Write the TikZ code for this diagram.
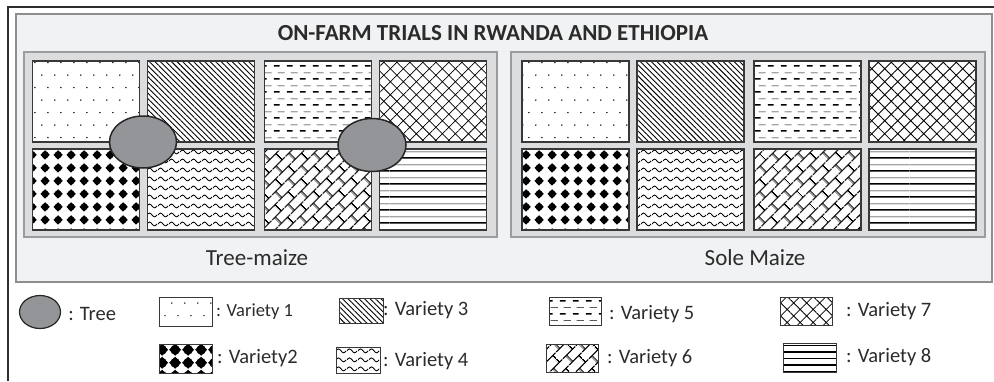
\documentclass[tikz,border=0pt]{standalone}
\usepackage{fontspec}
\setmainfont{Carlito}
\usetikzlibrary{positioning,patterns.meta,shapes.geometric}

\definecolor{framecol}{HTML}{2E2E2E}
\definecolor{boxfill}{HTML}{F1F2F3}
\definecolor{boxline}{HTML}{8E8E8E}
\definecolor{panelfill}{HTML}{DCDDDE}
\definecolor{panelline}{HTML}{9C9C9C}
\definecolor{plotline}{HTML}{383838}
\definecolor{treefill}{HTML}{939598}
\definecolor{treeline}{HTML}{262626}
\definecolor{inkcol}{HTML}{2B2B2B}

\tikzdeclarepattern{
  name=finedots, type=uncolored,
  bounding box={(0pt,0pt) and (13pt,25.4pt)},
  tile size={(13pt,25.4pt)},
  code={
    \tikzset{x=1pt,y=1pt}
    \fill (3,3) circle [radius=0.8];
    \fill (9.5,15.7) circle [radius=0.8];
  }
}
\tikzdeclarepattern{
  name=blackdots, type=uncolored,
  bounding box={(0pt,0pt) and (13pt,13pt)},
  tile size={(13pt,13pt)},
  code={
    \tikzset{x=1pt,y=1pt}
    \fill (6.5,6.5) circle [radius=3.8];
    \fill (6.5,1.5) -- (11.5,6.5) -- (6.5,11.5) -- (1.5,6.5) -- cycle;
  }
}
\tikzdeclarepattern{
  name=bigblackdots, type=uncolored,
  bounding box={(0pt,0pt) and (13pt,13pt)},
  tile size={(13pt,13pt)},
  code={
    \tikzset{x=1pt,y=1pt}
    \fill (6.5,6.5) circle [radius=5.1];
    \fill (6.5,0.2) -- (12.8,6.5) -- (6.5,12.8) -- (0.2,6.5) -- cycle;
  }
}
\tikzdeclarepattern{
  name=waves, type=uncolored,
  bounding box={(0pt,0pt) and (10.5pt,8.5pt)},
  tile size={(10.5pt,8.5pt)},
  code={
    \tikzset{x=1pt,y=1pt}
    \draw[line width=0.9pt] (0,4.25) sin (2.625,6.25) cos (5.25,4.25) sin (7.875,2.25) cos (10.5,4.25);
  }
}
\tikzdeclarepattern{
  name=dashrows, type=uncolored,
  bounding box={(0pt,0pt) and (13pt,13pt)},
  tile size={(13pt,13pt)},
  code={
    \tikzset{x=1pt,y=1pt}
    \draw[line width=1.7pt] (1,3.25) -- (7,3.25);
    \draw[line width=0.55pt] (5,9.75) -- (12.5,9.75);
  }
}
\tikzdeclarepattern{
  name=tworules, type=uncolored,
  bounding box={(0pt,0pt) and (130pt,13pt)},
  tile size={(130pt,13pt)},
  code={
    \tikzset{x=1pt,y=1pt}
    \draw[line width=1.7pt] (0,3.25) -- (130,3.25);
    \draw[line width=0.6pt] (0,9.75) -- (130,9.75);
  }
}
\tikzdeclarepattern{
  name=bricks, type=uncolored,
  bounding box={(0pt,0pt) and (18pt,18pt)},
  tile size={(18pt,18pt)},
  tile transformation={rotate=45},
  code={
    \tikzset{x=1pt,y=1pt}
    \draw[line width=1.3pt] (0,4.5) -- (18,4.5) (0,13.5) -- (18,13.5)
      (4.5,4.5) -- (4.5,13.5) (13.5,13.5) -- (13.5,18) (13.5,0) -- (13.5,4.5);
  }
}

\begin{document}
\begin{tikzpicture}[x=1pt,y=-1pt,
  plot/.style={rectangle,draw=plotline,line width=1.1pt,preaction={fill=white},minimum width=107pt,minimum height=81pt,inner sep=0pt,outer sep=0pt},
  tree/.style={ellipse,draw=treeline,fill=treefill,line width=1.5pt,inner sep=0pt},
  key/.style={rectangle,draw=plotline,line width=0.6pt,preaction={fill=white},inner sep=0pt,outer sep=0pt},
  keytext/.style={inner sep=0pt,text=inkcol,font=\fontsize{20.5}{24}\selectfont},
  paneltext/.style={inner sep=0pt,text=inkcol,font=\fontsize{23}{27}\selectfont},
  var1/.style={pattern=finedots},
  var2/.style={pattern=blackdots},
  var3/.style={pattern={Lines[angle=-45,distance=3.9pt,line width=0.9pt]}},
  var4/.style={pattern=waves},
  var5/.style={pattern=dashrows},
  var6/.style={pattern=bricks},
  var7/.style={pattern={Hatch[angle=45,distance=9.2pt,line width=0.8pt]}},
  var8/.style={pattern=tworules}]

  \useasboundingbox (0,0) rectangle (994,381);

  \draw[framecol,line width=1.5pt] (8,381) -- (8,7) -- (994,7);
  \draw[boxline,fill=boxfill,line width=1.2pt] (16,14) rectangle (992,282);
  \draw[panelline,fill=panelfill,line width=1.5pt] (24,52) rectangle (497,237);
  \draw[panelline,fill=panelfill,line width=1.5pt] (511,52) rectangle (985,237);

  \node[inner sep=0pt,text=inkcol,font=\bfseries\fontsize{23}{27}\selectfont] (title) at (493,33) {ON-FARM TRIALS IN RWANDA AND ETHIOPIA};

  \node[plot,var1] (t1) at (86,101.5) {};
  \node[plot,var3] (t2) [right=8pt of t1] {};
  \node[plot,var5] (t3) [right=10pt of t2] {};
  \node[plot,var7] (t4) [right=8pt of t3] {};
  \node[plot,var2] (t5) [below=7pt of t1] {};
  \node[plot,var4] (t6) [below=7pt of t2] {};
  \node[plot,var6] (t7) [below=7pt of t3] {};
  \node[plot,var8] (t8) [below=7pt of t4] {};

  \node[plot,var1] (s1) at (575.5,101.5) {};
  \node[plot,var3] (s2) [right=8pt of s1] {};
  \node[plot,var5] (s3) [right=10pt of s2] {};
  \node[plot,var7] (s4) [right=8pt of s3] {};
  \node[plot,var2] (s5) [below=7pt of s1] {};
  \node[plot,var4] (s6) [below=7pt of s2] {};
  \node[plot,var6] (s7) [below=7pt of s3] {};
  \node[plot,var8] (s8) [below=7pt of s4] {};

  \node[tree,minimum width=67pt,minimum height=52pt] (tree1) at (143,142) {};
  \node[tree,minimum width=68pt,minimum height=53pt] (tree2) at (372,145) {};

  \node[paneltext] (tmlabel) at (257,258) {Tree-maize};
  \node[paneltext] (smlabel) at (755,258) {Sole Maize};

  \node[tree,minimum width=41pt,minimum height=33pt,line width=1.2pt] (k0) at (40,312) {};
  \node[key,var1,minimum width=53pt,minimum height=29pt] (k1) at (185.5,311.5) {};
  \node[key,pattern=bigblackdots,minimum width=53pt,minimum height=29pt] (k2) at (185.5,358.5) {};
  \node[key,var3,minimum width=44pt,minimum height=25pt] (k3) at (361,310.5) {};
  \node[key,var4,minimum width=44pt,minimum height=26pt] (k4) at (358,360) {};
  \node[key,var5,minimum width=52pt,minimum height=28pt] (k5) at (575,311) {};
  \node[key,var6,minimum width=52pt,minimum height=28pt] (k6) at (572,358) {};
  \node[key,var7,minimum width=52pt,minimum height=28pt] (k7) at (806,311) {};
  \node[key,var8,minimum width=53pt,minimum height=29pt] (k8) at (809.5,357.5) {};

  \node[keytext] (l0) [right=7pt of k0,yshift=-2pt] {: Tree};
  \node[keytext,font=\fontsize{18.5}{22}\selectfont] (l1) [right=4pt of k1] {: Variety 1};
  \node[keytext] (l2) [right=5pt of k2] {: Variety2};
  \node[keytext] (l3) [right=0pt of k3] {: Variety 3};
  \node[keytext] (l4) [right=3pt of k4,yshift=-1pt] {: Variety 4};
  \node[keytext] (l5) [right=8pt of k5,yshift=-3pt] {: Variety 5};
  \node[keytext] (l6) [right=9pt of k6] {: Variety 6};
  \node[keytext] (l7) [right=14pt of k7] {: Variety 7};
  \node[keytext] (l8) [right=10pt of k8] {: Variety 8};

\end{tikzpicture}
\end{document}
